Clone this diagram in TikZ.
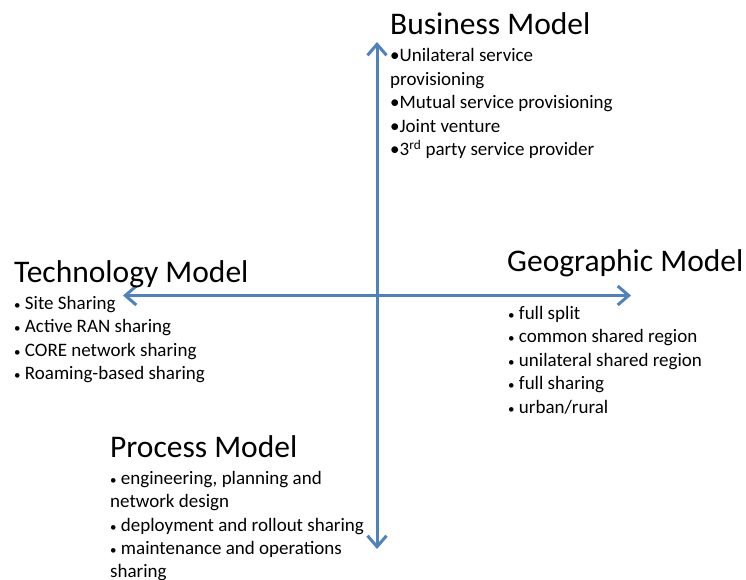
\documentclass[tikz,border=0pt]{standalone}
\usepackage{fontspec}
\setmainfont{Carlito}
\usetikzlibrary{arrows.meta}
\definecolor{axisblue}{HTML}{4F81BD}
\newcommand\smbul{{\fontsize{13}{13}\selectfont•}}
\begin{document}
\begin{tikzpicture}[x=1pt,y=-1pt,
  axis/.style={draw=axisblue,line width=3pt,
    {Straight Barb[length=11pt,width=19pt,line width=3pt]}-{Straight Barb[length=11pt,width=19pt,line width=3pt]}},
  title/.style={anchor=base west,inner sep=0pt,font=\fontsize{31.5}{36}\selectfont},
  item/.style={anchor=base west,inner sep=0pt,font=\fontsize{19}{23.5}\selectfont},
]
\useasboundingbox (0,0) rectangle (746,580);
% axes
\coordinate (top) at (377,42);
\coordinate (bottom) at (377,549);
\coordinate (left) at (123,295.5);
\coordinate (right) at (631,295.5);
\draw[axis] (bottom) -- (top);
\draw[axis] (left) -- (right);
% Business Model
\node[title] (bt) at (390,35) {Business Model};
\node[item] (b1) at (390,62) {•Unilateral service};
\node[item] (b2) at (390,85.5) {provisioning};
\node[item] (b3) at (390,109) {•Mutual service provisioning};
\node[item] (b4) at (390,132.5) {•Joint venture};
\node[item] (b5) at (390,156) {•3\textsuperscript{rd} party service provider};
% Technology Model
\node[title] (tt) at (14,282) {Technology Model};
\node[item] (t1) at (14,309) {\smbul\ Site Sharing};
\node[item] (t2) at (14,332.5) {\smbul\ Active RAN sharing};
\node[item] (t3) at (14,356) {\smbul\ CORE network sharing};
\node[item] (t4) at (14,379.5) {\smbul\ Roaming-based sharing};
% Geographic Model
\node[title] (gt) at (507,271) {Geographic Model};
\node[item] (g1) at (508,319) {\smbul\ full split};
\node[item] (g2) at (508,342.5) {\smbul\ common shared region};
\node[item] (g3) at (508,366) {\smbul\ unilateral shared region};
\node[item] (g4) at (508,389.5) {\smbul\ full sharing};
\node[item] (g5) at (508,413) {\smbul\ urban/rural};
% Process Model
\node[title] (pt) at (110,457) {Process Model};
\node[item] (p1) at (110,484) {\smbul\ engineering, planning and};
\node[item] (p2) at (110,507.5) {network design};
\node[item] (p3) at (110,531) {\smbul\ deployment and rollout sharing};
\node[item] (p4) at (110,554.5) {\smbul\ maintenance and operations};
\node[item] (p5) at (110,577.5) {sharing};
\end{tikzpicture}
\end{document}
